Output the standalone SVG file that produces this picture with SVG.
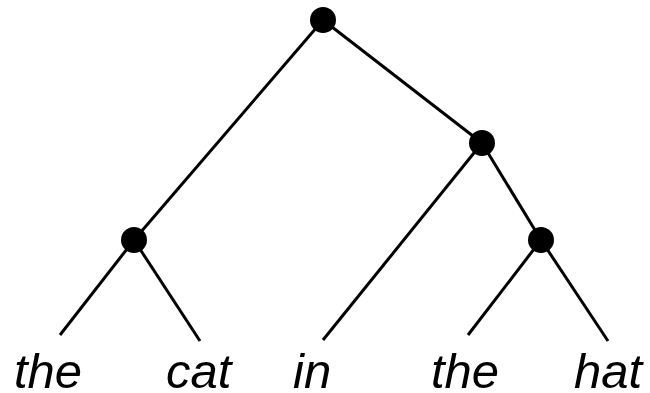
<svg xmlns="http://www.w3.org/2000/svg" width="650" height="393" viewBox="0 0 650 393">
<style>
.e{stroke:#000;stroke-width:3;fill:none}
.n{fill:#000}
.w{font-family:"Liberation Sans",Arial,sans-serif;font-style:italic;font-size:49px;fill:#000}
</style>
<rect width="650" height="393" fill="#fff"/>
<g id="edges">
<line class="e" x1="323" y1="20" x2="134" y2="240"/>
<line class="e" x1="323" y1="20" x2="482" y2="143"/>
<line class="e" x1="134" y1="240" x2="60" y2="335"/>
<line class="e" x1="134" y1="240" x2="200" y2="341"/>
<line class="e" x1="482" y1="143" x2="323" y2="340"/>
<line class="e" x1="482" y1="143" x2="541" y2="240"/>
<line class="e" x1="541" y1="240" x2="468" y2="335"/>
<line class="e" x1="541" y1="240" x2="608" y2="341"/>
</g>
<g id="root"><circle class="n" cx="323" cy="20" r="13"/></g>
<g id="np"><circle class="n" cx="134" cy="240" r="13"/></g>
<g id="pp"><circle class="n" cx="482" cy="143" r="13"/></g>
<g id="np2"><circle class="n" cx="541" cy="240" r="13"/></g>
<g id="w1"><text class="w" x="14" y="388">the</text></g>
<g id="w2"><text class="w" x="166" y="388">cat</text></g>
<g id="w3"><text class="w" x="293" y="388">in</text></g>
<g id="w4"><text class="w" x="431" y="388">the</text></g>
<g id="w5"><text class="w" x="574" y="388">hat</text></g>
</svg>
